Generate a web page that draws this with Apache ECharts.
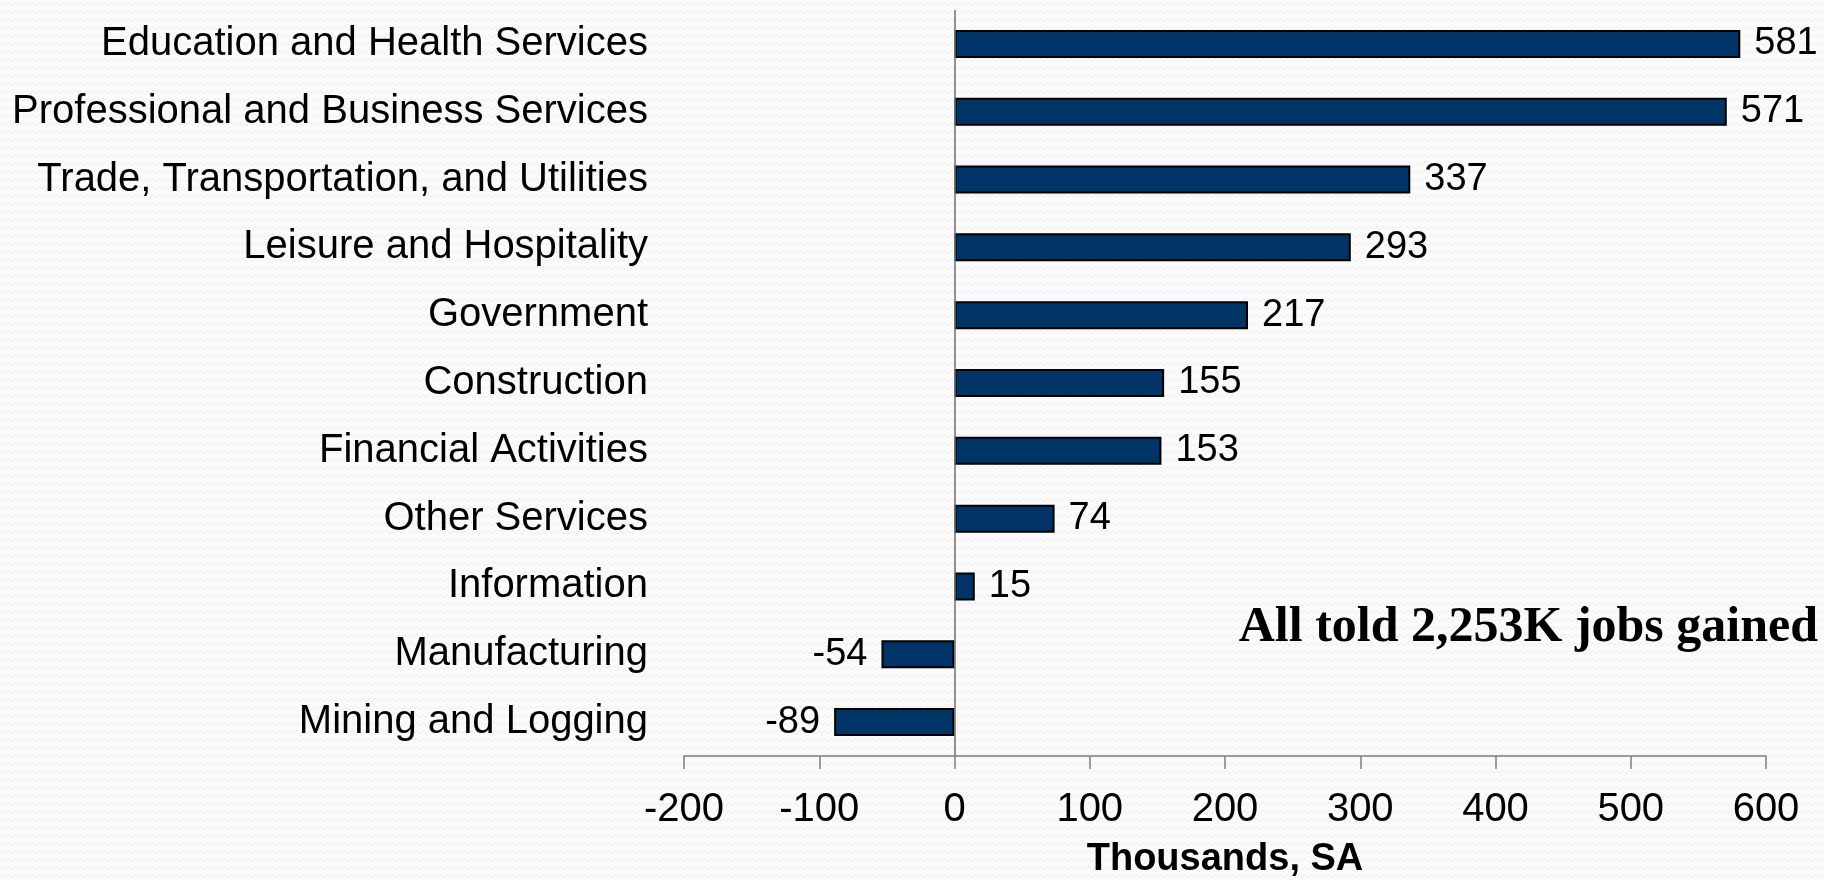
<!DOCTYPE html>
<html>
<head>
<meta charset="utf-8">
<script src="https://cdn.jsdelivr.net/npm/echarts@6/dist/echarts.min.js"></script>
<style>
html,body{margin:0;padding:0;background:#fafafa;}
#chart{width:1824px;height:880px;}
</style>
</head>
<body>
<div id="chart"></div>
<script>
const categories = [
  "Education and Health Services",
  "Professional and Business Services",
  "Trade, Transportation, and Utilities",
  "Leisure and Hospitality",
  "Government",
  "Construction",
  "Financial Activities",
  "Other Services",
  "Information",
  "Manufacturing",
  "Mining and Logging"
];
const jobChange = [581, 571, 337, 293, 217, 155, 153, 74, 15, -54, -89];
const axisMin = -200;
const axisMax = 600;
const axisStep = 100;
const axisTitle = "Thousands, SA";
const annotation = "All told 2,253K jobs gained";

// subtle zigzag background pattern
function makePattern() {
  const c = document.createElement('canvas');
  c.width = 12; c.height = 8;
  const g = c.getContext('2d');
  g.fillStyle = '#fbfbfb';
  g.fillRect(0, 0, 12, 8);
  g.strokeStyle = '#efefef';
  g.lineWidth = 1;
  g.beginPath();
  g.moveTo(0, 6); g.lineTo(3, 2); g.lineTo(6, 6); g.lineTo(9, 2); g.lineTo(12, 6);
  g.stroke();
  return c;
}

const chart = echarts.init(document.getElementById('chart'), null, {renderer: 'canvas'});
const font = "'Liberation Sans', Arial, sans-serif";

chart.setOption({
  backgroundColor: {image: makePattern(), repeat: 'repeat'},
  animation: false,
  grid: {left: 684, right: 58, top: 10, bottom: 124, containLabel: false, outerBoundsMode: 'none'},
  xAxis: {
    type: 'value',
    min: axisMin,
    max: axisMax,
    interval: axisStep,
    name: axisTitle,
    nameLocation: 'middle',
    nameGap: 85,
    nameTextStyle: {fontFamily: font, fontSize: 38, fontWeight: 'bold', color: '#000'},
    axisLine: {show: true, onZero: false, lineStyle: {color: '#7f7f7f', width: 1.5}},
    axisTick: {show: true, inside: false, length: 13, lineStyle: {color: '#7f7f7f', width: 1.5}},
    axisLabel: {fontFamily: font, fontSize: 40, color: '#000', margin: 34},
    splitLine: {show: false}
  },
  yAxis: {
    type: 'category',
    data: categories,
    inverse: true,
    axisLine: {show: false},
    axisTick: {show: false},
    axisLabel: {fontFamily: font, fontSize: 40, color: '#000', margin: 36}
  },
  series: [{
    type: 'bar',
    barWidth: 28,
    data: jobChange.map(v => ({
      value: v,
      label: {position: v < 0 ? 'left' : 'right'}
    })),
    itemStyle: {color: '#003366', borderColor: '#000', borderWidth: 2},
    label: {
      show: true,
      distance: 14,
      fontFamily: font,
      fontSize: 38,
      color: '#000'
    },
    markLine: {
      silent: true,
      symbol: ['none', 'none'],
      label: {show: false},
      lineStyle: {color: '#6f6f6f', width: 1.5, type: 'solid'},
      data: [{xAxis: 0}]
    }
  }],
  graphic: [{
    type: 'text',
    x: 1818,
    y: 628,
    style: {
      text: annotation,
      font: "bold 50px 'Liberation Serif', 'DejaVu Serif', serif",
      fill: '#000',
      align: 'right',
      verticalAlign: 'middle'
    }
  }]
});
</script>
</body>
</html>
